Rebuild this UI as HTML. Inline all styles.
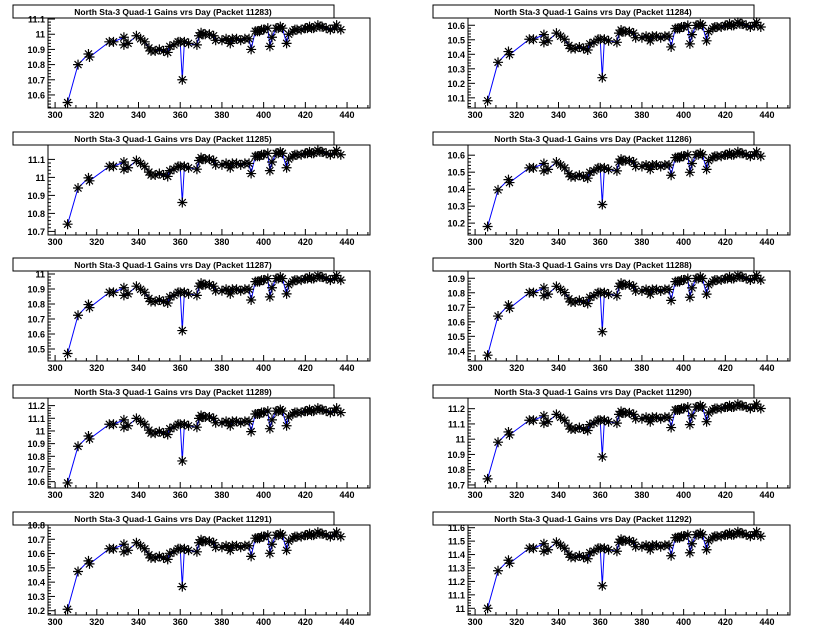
<!DOCTYPE html>
<html><head><meta charset="utf-8"><style>
body{margin:0;background:#fff}
svg{display:block;font-family:"Liberation Sans",Arial,sans-serif;font-weight:bold}
</style></head><body>
<svg id="s" width="840" height="635" xmlns="http://www.w3.org/2000/svg"></svg>
<script>
const D=[[306,10.55],[311,10.80],[316,10.87],[316.5,10.85],[326,10.95],[328,10.95],[333,10.98],[333,10.93],[335,10.94],[339,10.99],[341,10.97],[343,10.95],[345,10.91],[346,10.89],[348,10.89],[350,10.90],[352,10.89],[354,10.88],[355,10.92],[357,10.93],[359,10.95],[360,10.95],[361,10.70],[362,10.95],[364,10.94],[368,10.93],[369,10.99],[370,11.01],[371,11.00],[372,11.00],[374,11.00],[376,10.99],[377,10.96],[380,10.96],[382,10.97],[383,10.96],[384,10.94],[385,10.97],[387,10.97],[389,10.96],[391,10.97],[393,10.97],[394,10.90],[396,11.02],[397,11.02],[398,11.02],[399,11.03],[400,11.03],[402,11.04],[403,10.92],[404,10.98],[406,11.04],[407,11.04],[408,11.05],[409,11.04],[411,10.94],[412,11.00],[414,11.02],[415,11.03],[416,11.03],[418,11.03],[420,11.04],[421,11.04],[422,11.05],[423,11.04],[424,11.04],[426,11.06],[427,11.05],[428,11.05],[430,11.04],[432,11.03],[434,11.04],[435,11.06],[437,11.03]];
const P=[
[11283,10.514,11.107,10.55,11.06,[10.6,10.7,10.8,10.9,11,11.1]],
[11284,10.03,10.65,10.08,10.62,[10.1,10.2,10.3,10.4,10.5,10.6]],
[11285,10.68,11.18,10.74,11.15,[10.7,10.8,10.9,11,11.1]],
[11286,10.13,10.66,10.18,10.62,[10.2,10.3,10.4,10.5,10.6]],
[11287,10.42,11.02,10.47,10.99,[10.5,10.6,10.7,10.8,10.9,11]],
[11288,10.33,10.95,10.37,10.92,[10.4,10.5,10.6,10.7,10.8,10.9]],
[11289,10.55,11.26,10.59,11.18,[10.6,10.7,10.8,10.9,11,11.1,11.2]],
[11290,10.68,11.27,10.74,11.23,[10.7,10.8,10.9,11,11.1,11.2]],
[11291,10.17,10.8,10.21,10.75,[10.2,10.3,10.4,10.5,10.6,10.7,10.8]],
[11292,10.95,11.62,11.0,11.57,[11,11.1,11.2,11.3,11.4,11.5,11.6]]];
let h='';
P.forEach((p,i)=>{
 const col=i%2,row=Math.floor(i/2);
 const ox=col*420, oy=Math.round(row*126.7);
 const L=48+ox,R=370+ox,T=18+oy,B=108+oy;
 const X=v=>L+(v-296.6)*(R-L)/(451-296.6);
 const Y=v=>B-(v-p[1])*(B-T)/(p[2]-p[1]);
 h+=`<rect x="${13+ox}" y="${5+oy}" width="321" height="13" fill="#fff" stroke="#000"/>`;
 h+=`<text x="${173+ox}" y="${15+oy}" font-size="8.5" text-anchor="middle">North Sta-3 Quad-1 Gains vrs Day (Packet ${p[0]})</text>`;
 h+=`<rect x="${L}" y="${T}" width="${R-L}" height="${B-T}" fill="none" stroke="#000"/>`;
 for(let v=300;v<=450;v+=5){const x=X(v);const big=v%20==0;h+=`<line x1="${x}" y1="${B}" x2="${x}" y2="${B-(big?6:3)}" stroke="#000"/>`;if(big&&v<=440)h+=`<text x="${x}" y="${B+10}" font-size="9" text-anchor="middle">${v}</text>`;}
 p[5].forEach(t=>{const y=Y(t);h+=`<line x1="${L}" y1="${y}" x2="${L+7}" y2="${y}" stroke="#000"/><text x="${L-3}" y="${y+3.5}" font-size="9" text-anchor="end">${t}</text>`;
  for(let k=1;k<5;k++){const yy=Y(t-0.02*k);if(yy<B)h+=`<line x1="${L}" y1="${yy}" x2="${L+3}" y2="${yy}" stroke="#000"/>`;}});
 const m=v=>p[3]+(v-10.55)/(11.06-10.55)*(p[4]-p[3]);
 const pts=D.map(d=>[X(d[0]),Y(m(d[1]))]);
 h+=`<polyline points="${pts.map(q=>q.join(',')).join(' ')}" fill="none" stroke="#00f" stroke-width="1"/>`;
 pts.forEach(([x,y])=>{const r=5,r2=3.5;h+=`<path d="M${x-r} ${y}H${x+r}M${x} ${y-r}V${y+r}M${x-r2} ${y-r2}L${x+r2} ${y+r2}M${x-r2} ${y+r2}L${x+r2} ${y-r2}" stroke="#000" stroke-width="1.2"/>`;});
});
document.getElementById('s').innerHTML=h;
</script>
</body></html>
